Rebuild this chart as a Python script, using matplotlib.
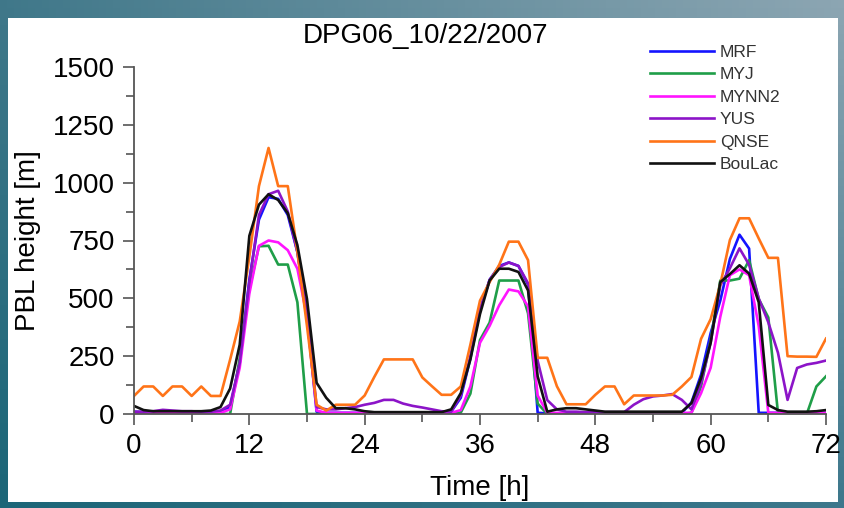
"""
Altura de la capa limite (PBL) en DPG06 para el 22/10/2007, comparando
seis esquemas de capa limite a lo largo de 72 horas de simulacion.
"""

import numpy as np
import matplotlib.pyplot as plt
from matplotlib.patches import Rectangle
from matplotlib.ticker import MultipleLocator

plt.rcParams["font.family"] = ["Liberation Sans", "DejaVu Sans"]

HORAS = list(range(73))

MRF = [10, 8, 8, 8, 8, 8, 8, 8, 8, 10,
       30, 220, 580, 840, 937, 930, 860, 700, 420, 10,
       5, 5, 5, 5, 5, 5, 5, 5, 5, 5,
       5, 5, 5, 10, 70, 240, 450, 580, 640, 655,
       640, 560, 5, 3, 3, 3, 3, 3, 3, 3,
       3, 3, 3, 3, 3, 3, 3, 5, 50, 170,
       350, 490, 670, 775, 715, 5, 5, 5, 5, 5,
       5, 5, 5]

MYJ = [0, 0, 0, 0, 0, 0, 0, 0, 0, 0,
       0, 240, 540, 725, 727, 646, 646, 483, 0, 0,
       0, 0, 0, 0, 0, 0, 0, 0, 0, 0,
       0, 0, 0, 0, 6, 88, 320, 395, 577, 577,
       577, 435, 45, 0, 0, 0, 0, 0, 0, 0,
       0, 0, 0, 0, 0, 0, 0, 0, 5, 120,
       320, 577, 577, 585, 665, 497, 417, 5, 0, 0,
       0, 119, 163]

MYNN2 = [5, 5, 5, 5, 5, 5, 5, 5, 5, 5,
         20, 200, 520, 727, 750, 742, 708, 628, 420, 15,
         5, 5, 5, 5, 5, 5, 5, 5, 5, 5,
         5, 5, 5, 5, 17, 119, 308, 381, 470, 538,
         530, 465, 80, 5, 5, 5, 5, 5, 5, 5,
         5, 5, 5, 5, 5, 5, 5, 5, 5, 90,
         200, 420, 600, 625, 600, 380, 5, 5, 5, 5,
         5, 5, 5]

YUS = [10, 10, 12, 18, 15, 12, 12, 10, 10, 15,
       40, 220, 570, 860, 950, 965, 875, 700, 430, 30,
       20, 20, 25, 30, 40, 48, 61, 61, 45, 35,
       28, 20, 12, 10, 80, 250, 450, 580, 635, 655,
       640, 565, 230, 60, 20, 10, 10, 8, 8, 8,
       8, 8, 40, 64, 76, 80, 86, 61, 20, 134,
       308, 556, 630, 716, 645, 500, 396, 265, 61, 199,
       214, 221, 231]

QNSE = [78, 119, 119, 78, 119, 119, 78, 119, 78, 78,
        235, 400, 680, 985, 1150, 985, 985, 700, 380, 40,
        15, 40, 40, 40, 80, 160, 236, 236, 236, 236,
        158, 120, 83, 83, 119, 300, 490, 570, 645, 745,
        745, 665, 243, 243, 120, 42, 42, 42, 83, 119,
        119, 42, 80, 80, 80, 80, 83, 119, 160, 325,
        410, 560, 752, 846, 846, 759, 675, 675, 250, 248,
        248, 247, 326]

BOULAC = [35, 17, 12, 12, 12, 12, 12, 12, 15, 30,
          110, 300, 770, 905, 950, 925, 868, 730, 497, 135,
          70, 25, 25, 20, 12, 8, 8, 8, 8, 8,
          8, 8, 8, 20, 90, 236, 432, 577, 628, 628,
          614, 534, 163, 10, 20, 25, 25, 20, 15, 10,
          10, 10, 10, 10, 10, 10, 10, 10, 47, 155,
          308, 570, 605, 643, 607, 483, 39, 17, 10, 10,
          10, 12, 17]

SERIES = [
    ("MRF", MRF, "#1414ff"),
    ("MYJ", MYJ, "#1f9e48"),
    ("MYNN2", MYNN2, "#ff14ff"),
    ("YUS", YUS, "#8c14c8"),
    ("QNSE", QNSE, "#ff7418"),
    ("BouLac", BOULAC, "#111111"),
]


def fondo(fig):
    """Marco con degradado tipo diapositiva y panel blanco."""
    bg = fig.add_axes([0, 0, 1, 1], zorder=-10)
    bg.set_axis_off()
    ny, nx = 60, 120
    u = np.linspace(0, 1, nx)[None, :, None]
    v = np.linspace(0, 1, ny)[:, None, None]
    ab_iz = np.array([0.11, 0.40, 0.47])
    ab_de = np.array([0.24, 0.47, 0.55])
    ar_iz = np.array([0.25, 0.47, 0.54])
    ar_de = np.array([0.55, 0.65, 0.70])
    img = ((1 - u) * (1 - v) * ab_iz + u * (1 - v) * ab_de
           + (1 - u) * v * ar_iz + u * v * ar_de)
    bg.imshow(img, origin="lower", extent=[0, 1, 0, 1], aspect="auto")
    bg.add_patch(Rectangle((8 / 845, 6 / 508), 830 / 845, 484 / 508,
                           facecolor="white", edgecolor="none"))
    bg.set_xlim(0, 1)
    bg.set_ylim(0, 1)


def main():
    fig = plt.figure(figsize=(8.45, 5.08), dpi=100)
    fondo(fig)

    ax = fig.add_axes([134 / 845, 1 - 414 / 508, 692 / 845, 347 / 508])
    ax.set_facecolor("none")
    for nombre, valores, color in SERIES:
        ax.plot(HORAS, valores, color=color, lw=1.9, label=nombre)

    ax.set_xlim(0, 72)
    ax.set_ylim(0, 1500)
    ax.xaxis.set_major_locator(MultipleLocator(12))
    ax.xaxis.set_minor_locator(MultipleLocator(6))
    ax.yaxis.set_major_locator(MultipleLocator(250))
    ax.yaxis.set_minor_locator(MultipleLocator(125))

    for lado in ("top", "right"):
        ax.spines[lado].set_visible(False)
    for lado in ("left", "bottom"):
        ax.spines[lado].set_color("#555555")
        ax.spines[lado].set_linewidth(1.3)
    ax.tick_params(which="major", direction="out", length=8, width=1.2,
                   color="#555555", labelsize=20, pad=6)
    ax.tick_params(which="minor", direction="out", length=6, width=1.2,
                   color="#555555")

    ax.set_xlabel("Time [h]", fontsize=20, labelpad=11)
    ax.set_ylabel("PBL height [m]", fontsize=20, labelpad=8)
    fig.text(0.503, 1 - 36 / 508, "DPG06_10/22/2007", fontsize=20,
             ha="center", va="center")

    ax.legend(loc="upper left", bbox_to_anchor=(641 / 845, 1 - 36 / 508),
              bbox_transform=fig.transFigure, frameon=False, fontsize=12.5,
              handlelength=3.7, handletextpad=0.35, labelspacing=0.42,
              borderpad=0, labelcolor="#333333")

    fig.savefig("out.png", dpi=100)


if __name__ == "__main__":
    main()
